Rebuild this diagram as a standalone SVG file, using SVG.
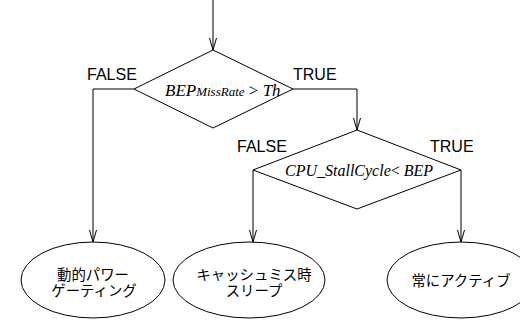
<svg xmlns="http://www.w3.org/2000/svg" width="520" height="320" viewBox="0 0 520 320">
<style>
.ln{fill:none;stroke:#000;stroke-width:1}
.sh{fill:#fff;stroke:#000;stroke-width:1}
.lbl{font-family:"Liberation Sans",Arial,sans-serif;font-size:16px;fill:#000}
.math{font-family:"Liberation Serif","Times New Roman",serif;font-style:italic;fill:#000}
.op{font-family:"Liberation Serif","Times New Roman",serif;font-style:normal}
.jp{font-family:"Liberation Sans","Noto Sans CJK JP",sans-serif;font-size:14.4px;fill:#000;text-anchor:middle}
</style>
<defs>
<marker id="arr" markerUnits="userSpaceOnUse" markerWidth="16" markerHeight="10" refX="13" refY="5" orient="auto" viewBox="0 0 16 10">
<path d="M1,1.5 L13,5 L1,8.5" fill="none" stroke="#000" stroke-width="1"/>
</marker>
</defs>
<g id="connectors">
<path class="ln" d="M213,0 V50" marker-end="url(#arr)"/>
<path class="ln" d="M134,89 H93 V242" marker-end="url(#arr)"/>
<path class="ln" d="M293,89 H357 V130" marker-end="url(#arr)"/>
<path class="ln" d="M253,170 V242" marker-end="url(#arr)"/>
<path class="ln" d="M461,170 V242" marker-end="url(#arr)"/>
</g>
<g id="decision1">
<polygon class="sh" points="213,50 293,89 213,128 134,89"/>
<text class="math" x="165" y="96" font-size="17">BEP<tspan font-size="13">MissRate</tspan><tspan class="op"> &gt; </tspan>Th</text>
</g>
<g id="decision2">
<polygon class="sh" points="357,130 461,170 357,209 253,170"/>
<text class="math" x="285" y="175.5" font-size="16">CPU_StallCycle<tspan class="op">&lt; </tspan>BEP</text>
</g>
<g id="labels">
<text class="lbl" x="87" y="80">FALSE</text>
<text class="lbl" x="293" y="80">TRUE</text>
<text class="lbl" x="237" y="152">FALSE</text>
<text class="lbl" x="430" y="152">TRUE</text>
</g>
<g id="end1">
<ellipse class="sh" cx="93" cy="280" rx="72" ry="38"/>
<text class="jp" x="93" y="279.5">動的パワー</text>
<text class="jp" x="94" y="295.8">ゲーティング</text>
</g>
<g id="end2">
<ellipse class="sh" cx="249" cy="280" rx="76" ry="38"/>
<text class="jp" x="254" y="279.5">キャッシュミス時</text>
<text class="jp" x="254" y="295.8">スリープ</text>
</g>
<g id="end3">
<ellipse class="sh" cx="461" cy="280" rx="74" ry="38"/>
<text class="jp" x="461" y="286">常にアクティブ</text>
</g>
</svg>
